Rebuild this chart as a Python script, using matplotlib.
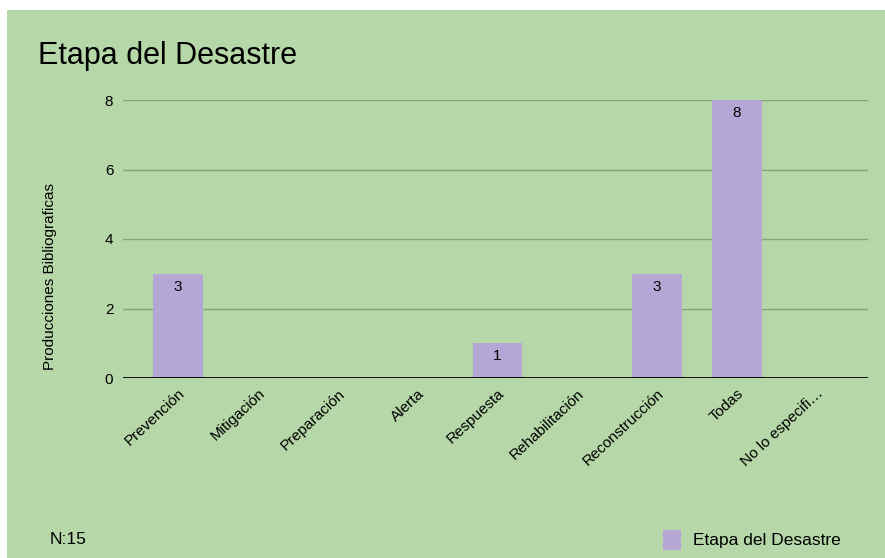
import matplotlib.pyplot as plt
from matplotlib.patches import Rectangle

categories = ["Prevención", "Mitigación", "Preparación", "Alerta", "Respuesta",
              "Rehabilitación", "Reconstrucción", "Todas", "No lo especifi…"]
values = [3, 0, 0, 0, 1, 0, 3, 8, 0]

BG = "#b6d7a8"
BAR = "#b4a7d6"
GRID = "#86a37a"

plt.rcParams["font.family"] = ["Liberation Sans", "DejaVu Sans"]

fig = plt.figure(figsize=(8.85, 5.58), dpi=100)
fig.patch.set_facecolor("white")
# green card with a thin white margin on top and left
fig.patches.append(Rectangle((7 / 885, 0), 1 - 7 / 885, 1 - 10 / 558,
                             transform=fig.transFigure, facecolor=BG,
                             edgecolor="none", zorder=-10))

ax = fig.add_axes([123 / 885, 1 - 378 / 558, (868 - 123) / 885, (378 - 100) / 558])
ax.set_facecolor("none")

x = list(range(len(categories)))
bars = ax.bar(x, values, width=0.625, color=BAR, zorder=2)
for xi, v in zip(x, values):
    if v > 0:
        ax.text(xi, v - 0.17, str(v), ha="center", va="top", fontsize=11, zorder=3)

ax.set_xlim(-0.69, 8.64)
ax.set_ylim(0, 8)
ax.set_yticks([0, 2, 4, 6, 8])
ax.yaxis.grid(True, color=GRID, linewidth=1, zorder=1)
ax.set_axisbelow(True)
ax.axhline(0, color="black", linewidth=1.3, zorder=3)
for s in ax.spines.values():
    s.set_visible(False)
ax.tick_params(axis="both", length=0, labelsize=11)
ax.tick_params(axis="y", pad=7)
ax.set_xticks(x)
ax.set_xticklabels(categories, rotation=43, ha="right", rotation_mode="anchor")
ax.tick_params(axis="x", pad=6)

fig.text(50 / 885, 1 - 276 / 558, "Producciones Bibliograficas", fontsize=11,
         rotation=90, va="center", ha="center")
fig.text(38 / 885, 1 - 56 / 558, "Etapa del Desastre", fontsize=22, va="center", ha="left")
fig.text(50 / 885, 1 - 540 / 558, "N:15", fontsize=12.5, va="center", ha="left")

# legend
fig.patches.append(Rectangle((663 / 885, 1 - 550 / 558), 18 / 885, 20 / 558,
                             transform=fig.transFigure, facecolor=BAR,
                             edgecolor="none", zorder=1))
fig.text(693 / 885, 1 - 540 / 558, "Etapa del Desastre", fontsize=12.5, va="center", ha="left")

fig.savefig("out.png", dpi=100, facecolor=fig.get_facecolor())
